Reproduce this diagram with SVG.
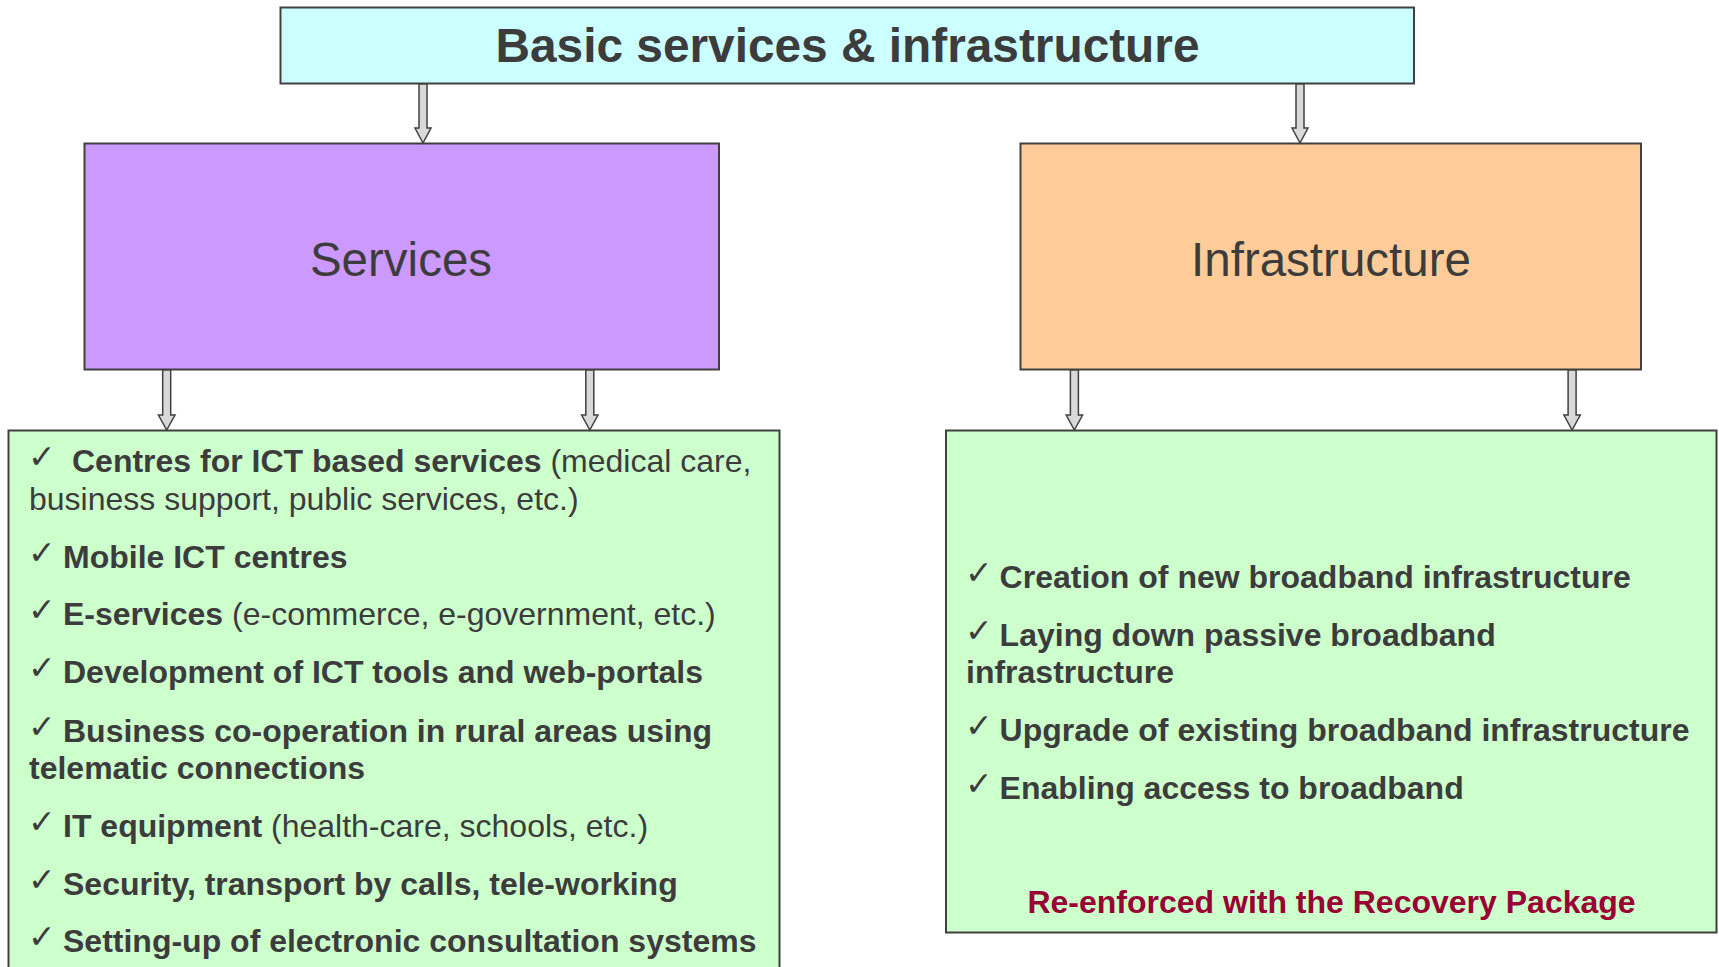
<svg xmlns="http://www.w3.org/2000/svg" width="1719" height="967" viewBox="0 0 1719 967">
<style>
.box{stroke:#404040;stroke-width:2}
.t{font-family:"Liberation Sans",Arial,sans-serif;fill:#3c3c3c}
.item{font-family:"Liberation Sans",Arial,sans-serif;font-size:32px;font-weight:bold;fill:#3c3c3c}
.b{font-weight:bold}
.n{font-weight:normal}
.ck{font-family:"DejaVu Sans",sans-serif;font-size:33px;fill:#3c3c3c}
.arr{fill:#d9d9d9;stroke:#404040;stroke-width:1.5;stroke-linejoin:miter}
</style>
<rect width="1719" height="967" fill="#ffffff"/>
<g id="node-top">
<rect class="box" x="280.5" y="7.5" width="1133.5" height="76" fill="#ccffff"/>
<text class="t b" x="847.5" y="62" font-size="48" text-anchor="middle" textLength="704" lengthAdjust="spacingAndGlyphs">Basic services &amp; infrastructure</text>
</g>
<g id="node-services">
<rect class="box" x="84.5" y="143.5" width="634.5" height="226" fill="#cc99ff"/>
<text class="t" x="401" y="276" font-size="47.5" text-anchor="middle">Services</text>
</g>
<g id="node-infrastructure">
<rect class="box" x="1020.5" y="143.5" width="620.5" height="226" fill="#ffcc99"/>
<text class="t" x="1331" y="276" font-size="47.5" text-anchor="middle">Infrastructure</text>
</g>
<g id="node-services-list">
<rect class="box" x="8.5" y="430.5" width="771" height="560" fill="#ccffcc"/>
<text class="ck" x="28" y="468">✓</text>
<text class="item" x="72" y="471.7">Centres for ICT based services<tspan class="n"> (medical care,</tspan></text>
<text class="item n" x="29" y="510">business support, public services, etc.)</text>
<text class="ck" x="28" y="564">✓</text>
<text class="item" x="63" y="567.7">Mobile ICT centres</text>
<text class="ck" x="28" y="621">✓</text>
<text class="item" x="63" y="625">E-services<tspan class="n"> (e-commerce, e-government, etc.)</tspan></text>
<text class="ck" x="28" y="679">✓</text>
<text class="item" x="63" y="683">Development of ICT tools and web-portals</text>
<text class="ck" x="28" y="737.5">✓</text>
<text class="item" x="63" y="741.5">Business co-operation in rural areas using</text>
<text class="item" x="29" y="779">telematic connections</text>
<text class="ck" x="28" y="832.6">✓</text>
<text class="item" x="63" y="836.6">IT equipment<tspan class="n"> (health-care, schools, etc.)</tspan></text>
<text class="ck" x="28" y="891">✓</text>
<text class="item" x="63" y="895">Security, transport by calls, tele-working</text>
<text class="ck" x="28" y="947.6">✓</text>
<text class="item" x="63" y="951.6">Setting-up of electronic consultation systems</text>
</g>
<g id="node-infrastructure-list">
<rect class="box" x="946" y="430.5" width="770.5" height="502" fill="#ccffcc"/>
<text class="ck" x="965" y="584">✓</text>
<text class="item" x="999.6" y="587.7">Creation of new broadband infrastructure</text>
<text class="ck" x="965" y="641.5">✓</text>
<text class="item" x="999.6" y="645.5">Laying down passive broadband</text>
<text class="item" x="966" y="683">infrastructure</text>
<text class="ck" x="965" y="737">✓</text>
<text class="item" x="999.6" y="741">Upgrade of existing broadband infrastructure</text>
<text class="ck" x="965" y="795.2">✓</text>
<text class="item" x="999.6" y="799.2">Enabling access to broadband</text>
<text class="item" x="1331.5" y="913.3" text-anchor="middle" style="fill:#990033">Re-enforced with the Recovery Package</text>
</g>
<g id="connectors">
<path class="arr" d="M419 84 L427 84 L427 128 L431 128 L423 143 L415 128 L419 128 Z"/>
<path class="arr" d="M1296 84 L1304 84 L1304 128 L1308 128 L1300 143 L1292 128 L1296 128 Z"/>
<path class="arr" d="M162.7 370 L170.7 370 L170.7 415 L175 415 L166.7 430 L158.4 415 L162.7 415 Z"/>
<path class="arr" d="M585.8 370 L593.8 370 L593.8 415 L598 415 L589.8 430 L581.6 415 L585.8 415 Z"/>
<path class="arr" d="M1070.4 370 L1078.4 370 L1078.4 415 L1082.6 415 L1074.4 430 L1066.2 415 L1070.4 415 Z"/>
<path class="arr" d="M1568.1 370 L1576.1 370 L1576.1 415 L1580.3 415 L1572.1 430 L1563.9 415 L1568.1 415 Z"/>
</g>
</svg>
